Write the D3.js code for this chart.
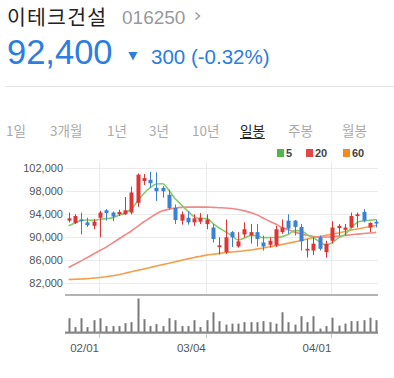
<!DOCTYPE html>
<html><head><meta charset="utf-8">
<script src="https://cdn.jsdelivr.net/npm/d3@7/dist/d3.min.js"></script>
<style>body{margin:0;background:#fff}svg{display:block}</style>
</head><body><svg id="c" width="394" height="378"></svg>
<script>
const dates=["01/25","01/28","01/29","01/30","01/31","02/01","02/07","02/08","02/11","02/12","02/13","02/14","02/15","02/18","02/19","02/20","02/21","02/22","02/25","02/26","02/27","02/28","03/04","03/05","03/06","03/07","03/08","03/11","03/12","03/13","03/14","03/15","03/18","03/19","03/20","03/21","03/22","03/25","03/26","03/27","03/28","03/29","04/01","04/02","04/03","04/04","04/05","04/08","04/09","04/10"];
const openP=[92900,92500,93100,92600,92000,93400,94700,94300,94000,94000,94300,96000,99800,100000,98600,98600,97400,95100,92900,93400,92600,92700,92300,91700,88300,87400,90900,88400,90500,90300,90900,89100,88700,88600,90900,92900,92900,91800,87700,87700,90000,87400,89400,91600,91300,91700,93700,94400,91700,92700];
const highP=[94300,94000,94300,93400,93200,94600,94900,94500,94800,97000,98800,101100,101000,101400,101300,98900,98300,95700,94500,94500,94000,94200,94000,92300,90000,93100,91100,90900,92600,92300,92300,90300,90000,92000,93100,94000,93000,92300,89700,90000,90300,89400,92800,92300,92300,94300,94300,94900,92600,93100];
const lowP=[92600,92300,90500,91800,91400,90000,92900,92800,93700,93900,94000,95300,99100,98600,96300,96900,94800,92300,92200,92200,92000,92300,91400,89100,87000,87100,88300,88200,90000,88900,88400,87700,88200,88300,90600,90600,90300,87700,86500,86900,87700,86500,88900,90300,90300,91600,91700,92600,90900,91700];
const closeP=[93300,93700,92900,92100,92700,94300,94200,93600,94400,94700,97800,100900,100300,99400,98000,98000,95100,93000,94000,92600,93300,93400,93100,89700,88600,90000,90000,89300,91400,90900,89700,88400,89400,91400,91700,91500,91800,89300,88000,88900,88000,88900,91700,92000,91700,93700,94000,92900,92500,92400];
const ma5=[92000,92500,92900,93000,92940,93140,93240,93380,93840,94240,94940,96280,97620,98620,99280,99320,98160,96700,95620,94540,93600,93260,93280,92420,91620,90960,90280,89520,89860,90320,90260,89940,89960,89960,90120,90480,91160,91140,90460,89900,89200,88620,89100,89900,90460,91600,92620,92860,92960,93100];
const ma20=[84750,85300,85900,86500,87100,87700,88300,89000,89700,90400,91100,91900,92700,93400,94100,94600,94900,95100,95200,95250,95250,95250,95250,95200,95150,95100,95000,94850,94600,94300,93900,93350,92800,92300,91700,91300,90900,90600,90350,90150,90050,90050,90100,90200,90300,90450,90550,90650,90750,90850];
const ma60=[82650,82700,82750,82800,82900,83000,83150,83300,83500,83750,84000,84250,84500,84750,85000,85250,85500,85750,86000,86250,86500,86700,86900,87050,87200,87350,87450,87550,87650,87800,87950,88150,88350,88550,88750,88950,89200,89450,89700,89950,90150,90350,90550,90750,91000,91250,91450,91650,91850,92050];
const volume=[28000,10000,28000,10000,24000,28000,12000,12000,12000,18000,20000,68000,26000,12000,16000,12000,28000,24000,12000,12000,24000,10000,24000,40000,22000,15000,17000,17000,20000,20000,20000,22000,20000,17000,40000,20000,15000,32000,20000,32000,7000,12000,29000,13000,17000,22000,22000,24000,29000,24000];
const yTicks=[82000,86000,90000,94000,98000,102000];
const xTickLabels=["02/01","03/04","04/01"];
const tabs=["1일","3개월","1년","3년","10년","일봉","주봉","월봉"];
const activeTab="일봉";
const maLabels=["5","20","60"];
const stockName="이테크건설", stockCode="016250", price="92,400", change="300 (-0.32%)";

const svg=d3.select("#c");
const C={up:"#dd3535",down:"#3a80d6",g:"#86cc6c",r:"#f08888",o:"#f4a04a",gL:"#4cb84c",rL:"#e84545",oL:"#f5891f"};
// header
svg.append("text").attr("x",7).attr("y",25).attr("font-family","'Noto Sans CJK KR'").attr("font-size",20.5).attr("letter-spacing",1.2).attr("fill","#222").text(stockName);
svg.append("text").attr("x",122).attr("y",24).attr("font-family","'Liberation Sans',Arial").attr("font-size",19).attr("fill","#999").text(stockCode);
svg.append("path").attr("d","M195.5,12.5L199.5,16L195.5,19.5").attr("fill","none").attr("stroke","#999").attr("stroke-width",1.5);
svg.append("text").attr("x",7).attr("y",64).attr("font-family","'Liberation Sans',Arial").attr("font-size",34.5).attr("fill","#2b7de0").text(price);
svg.append("path").attr("d","M128.5,52L137.5,52L133,60.5Z").attr("fill","#2b7de0");
svg.append("text").attr("x",151).attr("y",64).attr("font-family","'Liberation Sans',Arial").attr("font-size",20.5).attr("fill","#2b7de0").text(change);
svg.append("line").attr("x1",5).attr("x2",394).attr("y1",86.5).attr("y2",86.5).attr("stroke","#e2e2e2");
// tabs
const tabX=[6,50,107,149,192,240,288,342];
tabs.forEach((t,i)=>{
  const a=t===activeTab;
  const el=svg.append("text").attr("x",tabX[i]).attr("y",136).attr("font-family","'Noto Sans CJK KR'").attr("font-size",13.5).attr("fill",a?"#222":"#aaa").text(t);
  if(a){const w=el.node().getComputedTextLength();svg.append("line").attr("x1",tabX[i]).attr("x2",tabX[i]+w).attr("y1",138.5).attr("y2",138.5).attr("stroke","#222").attr("stroke-width",1);}
});
// legend
const legX=[277,306,343], legC=[C.gL,C.rL,C.oL];
maLabels.forEach((l,i)=>{
  svg.append("rect").attr("x",legX[i]).attr("y",149).attr("width",7).attr("height",8).attr("fill",legC[i]);
  svg.append("text").attr("x",legX[i]+9).attr("y",157).attr("font-family","'Liberation Sans',Arial").attr("font-weight","bold").attr("font-size",11).attr("fill","#444").text(l);
});
// scales
const x=d3.scaleBand().domain(dates).range([65.4,379.4]);
const cx=d=>x(d)+x.bandwidth()/2;
const y=d3.scaleLinear().domain([82000,102000]).range([283.3,168.3]);
const yv=d3.scaleLinear().domain([0,75000]).range([332,295]);
const L=65,R=378;
// grid
svg.append("g").selectAll("line").data(yTicks).join("line").attr("x1",L).attr("x2",R).attr("y1",d=>Math.round(y(d))+0.5).attr("y2",d=>Math.round(y(d))+0.5).attr("stroke","#ebebeb");
svg.append("g").selectAll("line").data(xTickLabels).join("line").attr("x1",d=>Math.round(cx(d))-0.5).attr("x2",d=>Math.round(cx(d))-0.5).attr("y1",162).attr("y2",295).attr("stroke","#ebebeb");
const ya=svg.append("g").attr("transform",`translate(${L-2},0)`).call(d3.axisLeft(y).tickValues(yTicks).tickSize(0).tickPadding(0).tickFormat(d3.format(",")));
ya.select(".domain").remove();
ya.selectAll("text").attr("font-family","'Liberation Sans',Arial").attr("font-size",11).attr("fill","#555");
// MA lines
const line=arr=>d3.line().x((d,i)=>cx(dates[i])).y(d=>y(d)).curve(d3.curveMonotoneX)(arr);
[[ma60,C.o],[ma20,C.r],[ma5,C.g]].forEach(([a,c])=>svg.append("path").attr("d",line(a)).attr("fill","none").attr("stroke",c).attr("stroke-width",1.6));
// candles
const idx=d3.range(dates.length);
const col=i=>closeP[i]>=openP[i]?C.up:C.down;
svg.append("g").selectAll("line").data(idx).join("line").attr("x1",i=>Math.round(cx(dates[i]))+0.5).attr("x2",i=>Math.round(cx(dates[i]))+0.5).attr("y1",i=>y(highP[i])).attr("y2",i=>y(lowP[i])).attr("stroke",col).attr("stroke-width",1);
svg.append("g").selectAll("rect").data(idx).join("rect").attr("x",i=>Math.round(cx(dates[i]))-1.5).attr("width",4)
  .attr("y",i=>y(Math.max(openP[i],closeP[i]))).attr("height",i=>Math.max(1.5,Math.abs(y(openP[i])-y(closeP[i])))).attr("fill",col);
// separator lines
svg.append("line").attr("x1",L).attr("x2",R).attr("y1",295).attr("y2",295).attr("stroke","#b4b4b4").attr("stroke-width",2.2);
// volume
svg.append("g").selectAll("rect").data(idx).join("rect").attr("x",i=>Math.round(cx(dates[i]))-0.5).attr("width",2)
  .attr("y",i=>yv(volume[i])).attr("height",i=>yv(0)-yv(volume[i])).attr("fill","#7a7a7a");
svg.append("line").attr("x1",L).attr("x2",R).attr("y1",332.7).attr("y2",332.7).attr("stroke","#888").attr("stroke-width",2.2);
svg.append("g").selectAll("line").data(xTickLabels).join("line").attr("x1",d=>Math.round(cx(d))-0.5).attr("x2",d=>Math.round(cx(d))-0.5).attr("y1",334).attr("y2",338).attr("stroke","#c8c8c8");
svg.append("g").selectAll("text").data(xTickLabels).join("text").attr("x",d=>cx(d)-1).attr("y",352).attr("text-anchor","end").attr("font-family","'Liberation Sans',Arial").attr("font-size",11.5).attr("fill","#555").text(d=>d);
</script></body></html>
